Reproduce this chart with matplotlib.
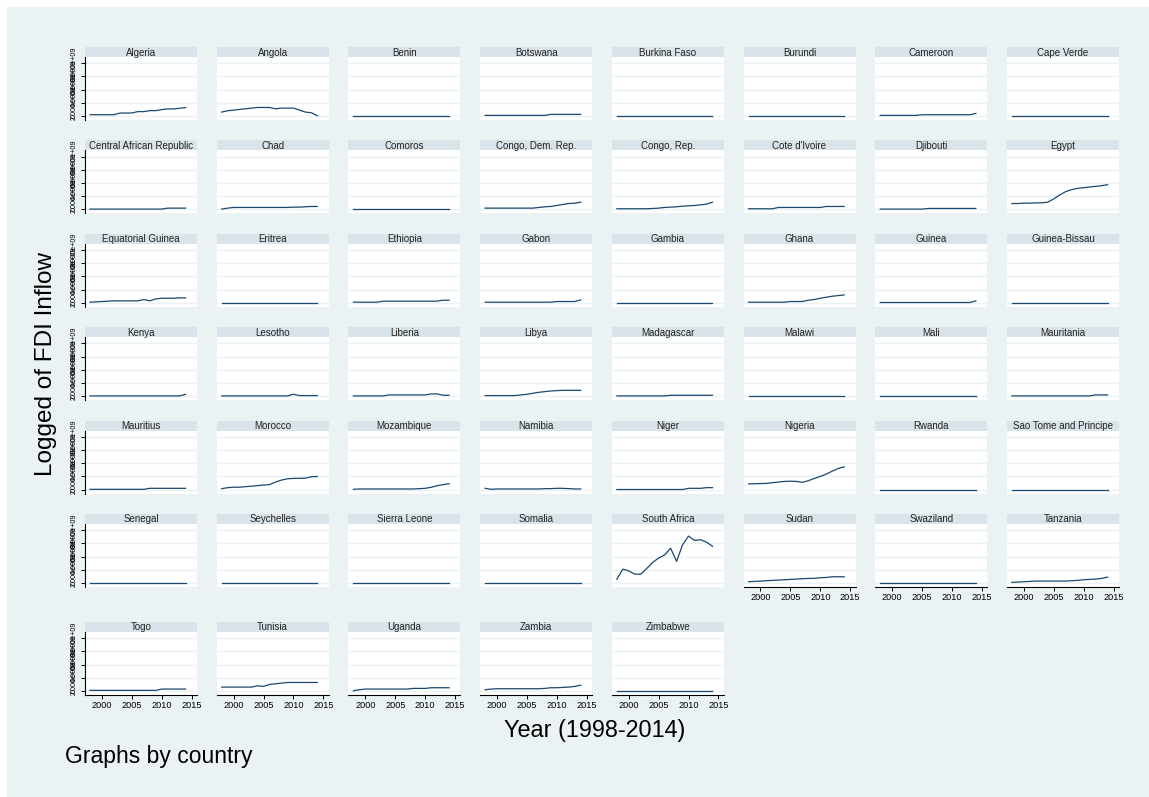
import matplotlib
matplotlib.use("Agg")
import matplotlib.pyplot as plt
from matplotlib.patches import Rectangle

years = list(range(1998, 2015))

countries = [
    "Algeria", "Angola", "Benin", "Botswana", "Burkina Faso", "Burundi", "Cameroon", "Cape Verde",
    "Central African Republic", "Chad", "Comoros", "Congo, Dem. Rep.", "Congo, Rep.", "Cote d'Ivoire", "Djibouti", "Egypt",
    "Equatorial Guinea", "Eritrea", "Ethiopia", "Gabon", "Gambia", "Ghana", "Guinea", "Guinea-Bissau",
    "Kenya", "Lesotho", "Liberia", "Libya", "Madagascar", "Malawi", "Mali", "Mauritania",
    "Mauritius", "Morocco", "Mozambique", "Namibia", "Niger", "Nigeria", "Rwanda", "Sao Tome and Principe",
    "Senegal", "Seychelles", "Sierra Leone", "Somalia", "South Africa", "Sudan", "Swaziland", "Tanzania",
    "Togo", "Tunisia", "Uganda", "Zambia", "Zimbabwe",
]

# values in units of 1e9 (1998..2014)
algeria = [0.2, 0.2, 0.2, 0.2, 0.2, 0.45, 0.46, 0.46, 0.67, 0.67, 0.82, 0.82, 0.97, 1.08, 1.08, 1.18, 1.28]
angola = [0.6, 0.8, 0.9, 1.0, 1.1, 1.2, 1.3, 1.3, 1.3, 1.1, 1.2, 1.2, 1.2, 0.9, 0.6, 0.5, 0.05]
benin = [0.05] * 17
botswana = [0.1] * 11 + [0.25] * 6
burkina = [0.05] * 17
burundi = [0.02] * 17
cameroon = [0.1] * 7 + [0.2] * 9 + [0.4]
cape_verde = [0.05] * 17
car = [0.05] * 13 + [0.2] * 4
chad = [0.05, 0.2, 0.3, 0.3, 0.3, 0.3, 0.3, 0.3, 0.3, 0.3, 0.3, 0.3, 0.35, 0.35, 0.4, 0.45, 0.45]
comoros = [0.02] * 17
congo_dr = [0.2, 0.2, 0.2, 0.2, 0.2, 0.2, 0.2, 0.2, 0.2, 0.3, 0.4, 0.45, 0.6, 0.75, 0.9, 0.95, 1.1]
congo_rep = [0.1, 0.1, 0.1, 0.1, 0.1, 0.1, 0.15, 0.2, 0.3, 0.35, 0.4, 0.5, 0.55, 0.6, 0.7, 0.8, 1.1]
cote_ivoire = [0.1] * 5 + [0.3] * 8 + [0.45] * 4
djibouti = [0.05] * 8 + [0.15] * 9
egypt = [0.9, 0.9, 0.95, 0.95, 1.0, 1.0, 1.1, 1.6, 2.2, 2.7, 3.0, 3.2, 3.3, 3.4, 3.5, 3.6, 3.75]
eq_guinea = [0.1, 0.15, 0.2, 0.25, 0.3, 0.3, 0.3, 0.3, 0.3, 0.5, 0.3, 0.6, 0.7, 0.7, 0.7, 0.75, 0.75]
eritrea = [0.02] * 17
ethiopia = [0.1] * 5 + [0.25] * 10 + [0.4] * 2
gabon = [0.1] * 12 + [0.2] * 4 + [0.45]
gambia = [0.02] * 17
ghana = [0.1, 0.1, 0.1, 0.1, 0.1, 0.1, 0.1, 0.2, 0.2, 0.2, 0.4, 0.5, 0.7, 0.85, 1.0, 1.1, 1.2]
guinea = [0.05] * 16 + [0.3]
guinea_bissau = [0.02] * 17
kenya = [0.05] * 16 + [0.3]
lesotho = [0.05] * 12 + [0.3, 0.1, 0.1, 0.1, 0.1]
liberia = [0.05] * 6 + [0.2] * 7 + [0.35, 0.35, 0.15, 0.15]
libya = [0.1, 0.1, 0.1, 0.1, 0.1, 0.1, 0.2, 0.3, 0.45, 0.6, 0.7, 0.8, 0.85, 0.9, 0.9, 0.9, 0.9]
madagascar = [0.05] * 9 + [0.15] * 8
malawi = [0.02] * 17
mali = [0.02] * 17
mauritania = [0.05] * 14 + [0.2] * 3
mauritius = [0.05] * 10 + [0.2] * 7
morocco = [0.15, 0.3, 0.37, 0.37, 0.45, 0.53, 0.6, 0.7, 0.76, 1.15, 1.45, 1.65, 1.7, 1.72, 1.74, 1.95, 2.0]
mozambique = [0.05, 0.1, 0.1, 0.1, 0.1, 0.1, 0.1, 0.1, 0.1, 0.1, 0.1, 0.15, 0.2, 0.35, 0.6, 0.75, 0.9]
namibia = [0.2, 0.05, 0.1, 0.1, 0.1, 0.1, 0.1, 0.1, 0.1, 0.1, 0.15, 0.15, 0.2, 0.2, 0.15, 0.1, 0.1]
niger = [0.02] * 12 + [0.2, 0.2, 0.2, 0.3, 0.3]
nigeria = [0.87, 0.9, 0.92, 0.95, 1.05, 1.15, 1.25, 1.28, 1.25, 1.1, 1.35, 1.7, 2.0, 2.35, 2.8, 3.2, 3.45]
rwanda = [0.02] * 17
sao_tome = [0.02] * 17
senegal = [0.02] * 17
seychelles = [0.02] * 17
sierra_leone = [0.02] * 17
somalia = [0.02] * 17
south_africa = [0.57, 2.1, 1.85, 1.34, 1.34, 2.2, 3.12, 3.8, 4.26, 5.28, 3.28, 5.8, 7.12, 6.46, 6.57, 6.2, 5.58]
sudan = [0.2, 0.25, 0.3, 0.35, 0.4, 0.45, 0.5, 0.55, 0.6, 0.65, 0.7, 0.72, 0.8, 0.85, 0.95, 0.95, 0.95]
swaziland = [0.02] * 17
tanzania = [0.1, 0.15, 0.2, 0.25, 0.3, 0.3, 0.3, 0.3, 0.3, 0.3, 0.35, 0.4, 0.5, 0.55, 0.6, 0.7, 0.9]
togo = [0.1] * 12 + [0.3] * 5
tunisia = [0.6, 0.6, 0.6, 0.6, 0.6, 0.6, 0.8, 0.7, 1.0, 1.1, 1.2, 1.3, 1.3, 1.3, 1.3, 1.3, 1.3]
uganda = [0.05, 0.2, 0.3, 0.3, 0.3, 0.3, 0.3, 0.3, 0.3, 0.3, 0.4, 0.4, 0.4, 0.5, 0.5, 0.5, 0.5]
zambia = [0.2, 0.3, 0.35, 0.35, 0.35, 0.35, 0.35, 0.35, 0.35, 0.35, 0.4, 0.5, 0.5, 0.55, 0.6, 0.7, 0.9]
zimbabwe = [0.05] * 17

series = [
    algeria, angola, benin, botswana, burkina, burundi, cameroon, cape_verde,
    car, chad, comoros, congo_dr, congo_rep, cote_ivoire, djibouti, egypt,
    eq_guinea, eritrea, ethiopia, gabon, gambia, ghana, guinea, guinea_bissau,
    kenya, lesotho, liberia, libya, madagascar, malawi, mali, mauritania,
    mauritius, morocco, mozambique, namibia, niger, nigeria, rwanda, sao_tome,
    senegal, seychelles, sierra_leone, somalia, south_africa, sudan, swaziland, tanzania,
    togo, tunisia, uganda, zambia, zimbabwe,
]

y_ticks = [0, 2, 4, 6, 8]
y_ticklabels = ["0", "2.000e+09", "4.000e+09", "6.000e+09", "8.000e+09"]
x_ticks = [2000, 2005, 2010, 2015]
x_ticklabels = ["2000", "2005", "2010", "2015"]

W, H = 1149, 797
fig = plt.figure(figsize=(W / 100, H / 100), dpi=100)
fig.patch.set_facecolor("white")
BG = "#eaf2f3"
STRIP = "#d9e3e9"
LINE = "#1a476f"
GRID = "#eaf2f3"
FONT = "Liberation Sans"

fig.patches.append(Rectangle((7 / W, 0), 1 - 7 / W, 1 - 7 / H, transform=fig.transFigure,
                             facecolor=BG, edgecolor="none", zorder=-10))

ncol = 8
col_left0, col_pitch, pw = 85, 131.7, 112
row_top0, row_pitch, ph = 57, 93.4, 63
strip_h = 10
n = len(countries)

def frac(x, y, w, h):
    return [x / W, 1 - (y + h) / H, w / W, h / H]

for i, (name, vals) in enumerate(zip(countries, series)):
    r, c = divmod(i, ncol)
    left = col_left0 + col_pitch * c
    top = row_top0 + row_pitch * r if r < 6 else 632
    ax = fig.add_axes(frac(left, top, pw, ph))
    ax.set_facecolor("white")
    ax.plot(years, vals, color=LINE, lw=0.9, solid_joinstyle="round")
    ax.set_xlim(1997.16, 2015.9)
    ax.set_ylim(-0.6, 8.95)
    ax.set_yticks(y_ticks)
    ax.grid(axis="y", color=GRID, lw=1.0)
    ax.set_axisbelow(True)
    for s in ax.spines.values():
        s.set_visible(False)
    # strip title
    sx = fig.add_axes(frac(left, top - strip_h, pw, strip_h))
    sx.set_facecolor(STRIP)
    sx.set_xticks([]); sx.set_yticks([])
    for s in sx.spines.values():
        s.set_visible(False)
    sx.text(0.5, 0.45, name, ha="center", va="center", fontsize=7.0, family=FONT,
            color="#222222", transform=sx.transAxes)
    # y axis on first column
    if c == 0:
        ax.spines["left"].set_visible(True)
        ax.spines["left"].set_color("black")
        ax.spines["left"].set_linewidth(0.8)
        ax.set_yticklabels(y_ticklabels, rotation=90, va="center", fontsize=5.2, family=FONT)
        ax.tick_params(axis="y", length=3, width=0.7, pad=2)
    else:
        ax.tick_params(axis="y", left=False, labelleft=False)
    # x axis on bottom panel of each column
    is_bottom = (i + ncol >= n)
    ax.set_xticks(x_ticks)
    if is_bottom:
        ax.spines["bottom"].set_visible(True)
        ax.spines["bottom"].set_color("black")
        ax.spines["bottom"].set_linewidth(0.8)
        ax.set_xticklabels(x_ticklabels, fontsize=6.6, family=FONT)
        ax.tick_params(axis="x", length=3, width=0.7, pad=1.5)
    else:
        ax.tick_params(axis="x", bottom=False, labelbottom=False)

fig.text(46 / W, 1 - 364 / H, "Logged of FDI Inflow", rotation=90, ha="center", va="center",
         fontsize=17.5, family=FONT)
fig.text(595 / W, 1 - 731 / H, "Year (1998-2014)", ha="center", va="center",
         fontsize=16.8, family=FONT)
fig.text(65 / W, 1 - 757 / H, "Graphs by country", ha="left", va="center",
         fontsize=16.5, family=FONT)

fig.savefig("out.png", dpi=100, facecolor=fig.get_facecolor())
